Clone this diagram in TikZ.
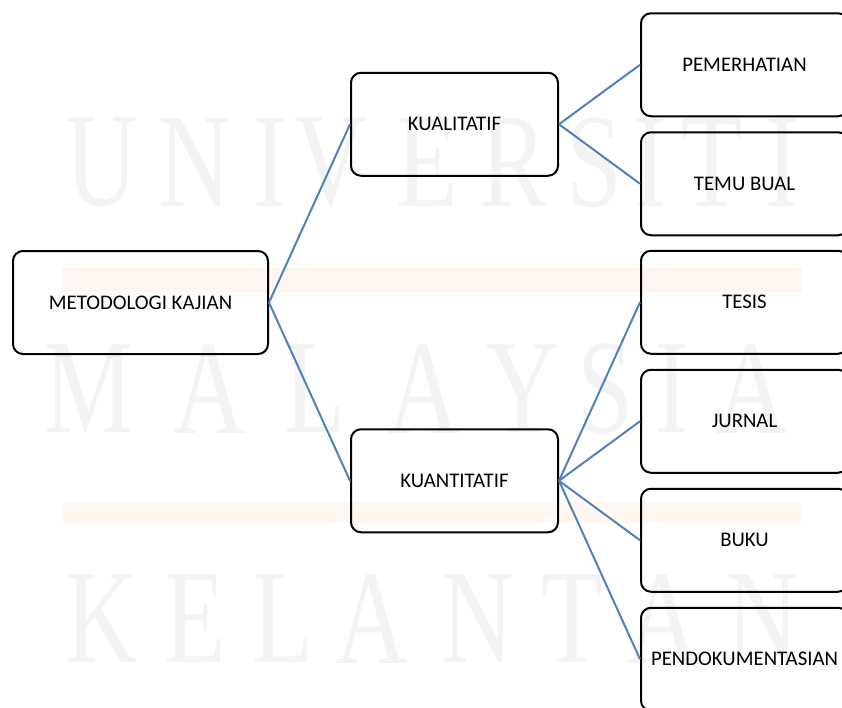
\documentclass[tikz,border=0pt]{standalone}
\usepackage{fontspec}
\setmainfont{Carlito}
\newfontfamily\wmfont{Liberation Serif}
\usetikzlibrary{positioning}
\definecolor{linkblue}{RGB}{79,129,189}
\definecolor{wmgray}{RGB}{243,243,243}
\definecolor{wmorange}{RGB}{255,247,240}

\begin{document}
\begin{tikzpicture}[x=1pt,y=-1pt]
\useasboundingbox (0,0) rectangle (842,707);

% watermark in the background
\begin{scope}[every node/.style={text=wmgray, inner sep=0pt, xscale=0.75, font=\wmfont\fontsize{134}{134}\selectfont}]
  \fill[wmorange] (62,268) rectangle (802,292);
  \fill[wmorange] (62,502) rectangle (802,523);
  \foreach \ch/\px [count=\k] in {U/102,N/195,I/270,V/331,E/427,R/514,S/594,I/650,T/712,I/782}
    \node (wmtop\k) at (\px,162.5) {\ch};
  \foreach \ch/\px [count=\k] in {M/89,A/210,L/315,A/424,Y/523,S/605,I/672,A/752}
    \node (wmmid\k) at (\px,389) {\ch};
  \foreach \ch/\px [count=\k] in {K/102,E/195,L/283,A/372,N/478,T/572,A/663,N/763}
    \node (wmbot\k) at (\px,619) {\ch};
\end{scope}

\begin{scope}[
    grow'=right,
    level 1/.style={sibling distance=356.5pt, level distance=314pt},
    level 2/.style={sibling distance=119pt, level distance=290pt},
    every node/.style={rectangle, draw=black, line width=2pt, rounded corners=10pt, minimum width=207pt, minimum height=103pt, align=center, font=\fontsize{20.8}{25}\selectfont},
    edge from parent/.style={draw=linkblue, line width=2pt},
    edge from parent path={(\tikzparentnode.east) -- (\tikzchildnode.west)}
  ]

\node[minimum width=255pt] (metodologi) at (140.5,302.5) {METODOLOGI KAJIAN}
  child {node (kualitatif) {KUALITATIF}
    child {node (pemerhatian) {PEMERHATIAN}}
    child {node (temubual) {TEMU BUAL}}
  }
  child {node (kuantitatif) {KUANTITATIF}
    child {node (tesis) {TESIS}}
    child {node (jurnal) {JURNAL}}
    child {node (buku) {BUKU}}
    child {node (pendokumentasian) {PENDOKUMENTASIAN}}
  };

\end{scope}
\end{tikzpicture}
\end{document}
